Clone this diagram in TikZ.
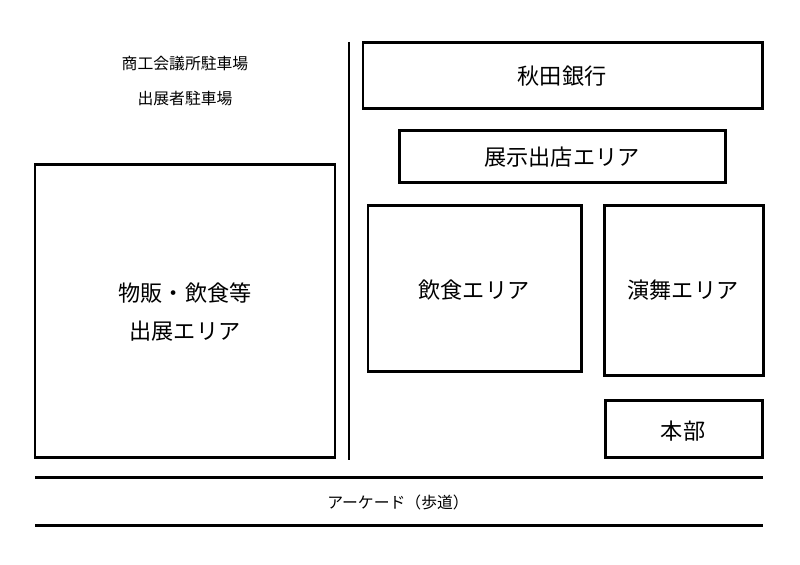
\documentclass[tikz,border=0pt]{standalone}
\usepackage{fontspec}
\newfontfamily\cjk{Noto Sans CJK JP}
\begin{document}
\begin{tikzpicture}[x=0.01cm,y=-0.01cm,
  area/.style={draw,line width=0.85pt},
  lbl/.style={font=\cjk\fontsize{6.3}{11}\selectfont,align=center},
  small/.style={font=\cjk\fontsize{4.5}{6}\selectfont}]
\useasboundingbox (0,0) rectangle (800,565);
\draw[area] (35,165) rectangle (335,458);
\node[lbl] (a) at (185,312) {物販・飲食等\\出展エリア};
\draw[line width=0.85pt] (349,42) coordinate (v1) -- (349,460) coordinate (v2);
\draw[area] (363,43) rectangle (762,109);
\node[lbl] (b) at (562,76) {秋田銀行};
\draw[area] (399,131) rectangle (725,183);
\node[lbl] (c) at (562,157) {展示出店エリア};
\draw[area] (368,206) rectangle (581,372);
\node[lbl] (d) at (474,290) {飲食エリア};
\draw[area] (604,206) rectangle (763,376);
\node[lbl] (e) at (683,290) {演舞エリア};
\draw[area] (605,401) rectangle (762,458);
\node[lbl] (f) at (683,431) {本部};
\draw[line width=0.85pt] (35,478) coordinate (h1) -- (763,478) coordinate (h2);
\draw[line width=0.85pt] (35,526) coordinate (h3) -- (763,526) coordinate (h4);
\node[small] (g) at (398,502) {アーケード（歩道）};
\node[small] (p1) at (185,64) {商工会議所駐車場};
\node[small] (p2) at (185,99) {出展者駐車場};
\end{tikzpicture}
\end{document}
